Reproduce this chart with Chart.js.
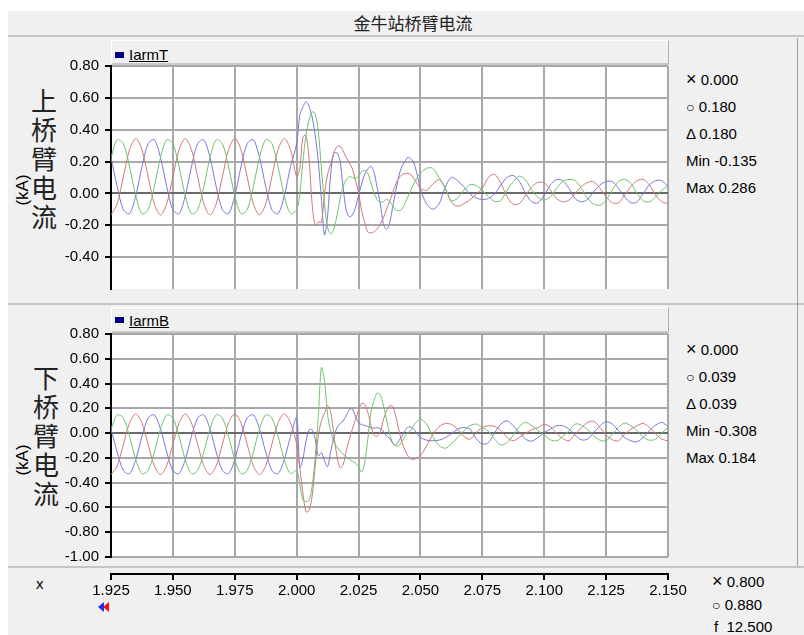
<!DOCTYPE html>
<html><head><meta charset="utf-8">
<script src="https://cdn.jsdelivr.net/npm/chart.js@4.4.1/dist/chart.umd.min.js"></script>
<style>
body{margin:0;width:804px;height:635px;background:#fff;overflow:hidden;position:relative;font-family:"Liberation Sans",Arial,sans-serif;color:#000}
.abs{position:absolute}
#frame{left:8px;top:11px;width:796px;height:624px;background:#f0f0f0}
.hline{height:2px;background:#c4c4c4}
.legend{background:#f0f0f0;border-top:1px solid #fff;border-left:1px solid #fff;border-right:1px solid #b0b0b0;border-bottom:2px solid #c8c8c8;box-sizing:border-box}
.sq{width:9px;height:6px;background:#000080}
.lg{font-size:15px;text-decoration:underline;line-height:16px}
.info{font-size:15px;line-height:18px;white-space:pre}
.cjk{font-family:"Noto Sans CJK SC",sans-serif;color:#222}
.vt{font-size:26px;line-height:29px;width:30px;text-align:center}
.kA{font-size:17px;transform:rotate(-90deg);transform-origin:center center;width:40px;text-align:center;line-height:20px}
canvas{position:absolute}
.sm{font-size:14px}
.x{font-size:18px;line-height:16px}
</style></head>
<body>
<div id="frame" class="abs"></div>
<div class="abs cjk" style="left:313px;top:12px;width:200px;text-align:center;font-size:17px;line-height:22px">金牛站桥臂电流</div>
<div class="abs hline" style="left:8px;top:35px;width:796px"></div>
<div class="abs hline" style="left:8px;top:303px;width:796px"></div>
<div class="abs hline" style="left:8px;top:566px;width:796px"></div>
<div class="abs" style="left:797px;top:38px;width:1px;height:528px;background:#a0a0a0"></div>

<div class="abs legend" style="left:111px;top:40px;width:558px;height:25px"></div>
<div class="abs sq" style="left:115px;top:52px"></div>
<div class="abs lg" style="left:129px;top:47px">IarmT</div>
<div class="abs legend" style="left:111px;top:307px;width:558px;height:26px"></div>
<div class="abs sq" style="left:115px;top:317px"></div>
<div class="abs lg" style="left:129px;top:313px">IarmB</div>

<div class="abs cjk vt" style="left:29px;top:85px">上<br>桥<br>臂<br>电<br>流</div>
<div class="abs cjk vt" style="left:31px;top:362px">下<br>桥<br>臂<br>电<br>流</div>
<div class="abs kA" style="left:3px;top:180px">(kA)</div>
<div class="abs kA" style="left:3px;top:450px">(kA)</div>

<div class="abs info" style="left:686px;top:71px"><span class="x">×</span> 0.000</div>
<div class="abs info" style="left:686px;top:98px"><span class="sm">○</span> 0.180</div>
<div class="abs info" style="left:686px;top:125px">Δ 0.180</div>
<div class="abs info" style="left:686px;top:152px">Min -0.135</div>
<div class="abs info" style="left:686px;top:179px">Max 0.286</div>

<div class="abs info" style="left:686px;top:341px"><span class="x">×</span> 0.000</div>
<div class="abs info" style="left:686px;top:368px"><span class="sm">○</span> 0.039</div>
<div class="abs info" style="left:686px;top:395px">Δ 0.039</div>
<div class="abs info" style="left:686px;top:422px">Min -0.308</div>
<div class="abs info" style="left:686px;top:449px">Max 0.184</div>

<div class="abs info" style="left:36px;top:575px">x</div>
<div class="abs info" style="left:712px;top:573px"><span class="x">×</span> 0.800</div>
<div class="abs info" style="left:712px;top:596px"><span class="sm">○</span> 0.880</div>
<div class="abs info" style="left:714px;top:618px">f  12.500</div>
<div class="abs" style="left:98px;top:602px;width:0;height:0;border-top:5.5px solid transparent;border-bottom:5.5px solid transparent;border-right:6px solid #1030ff"></div>
<div class="abs" style="left:103px;top:602px;width:0;height:0;border-top:5.5px solid transparent;border-bottom:5.5px solid transparent;border-right:6px solid #ff1010"></div>

<canvas id="cTop" width="680" height="263" style="left:0;top:46px"></canvas>
<canvas id="cBot" width="680" height="263" style="left:0;top:314px"></canvas>
<canvas id="cX" width="700" height="60" style="left:0;top:554px"></canvas>

<script>
const time = [1.925,1.9275,1.93,1.9325,1.935,1.9375,1.94,1.9425,1.945,1.9475,1.95,1.9525,1.955,1.9575,1.96,1.9625,1.965,1.9675,1.97,1.9725,1.975,1.9775,1.98,1.9825,1.985,1.9875,1.99,1.9925,1.995,1.9975,2.0,
2.00125,2.0025,2.00375,2.005,2.00625,2.0075,2.00875,2.01,2.01125,2.0125,2.01375,2.015,2.01625,2.0175,2.01875,2.02,2.02125,2.0225,2.02375,2.025,2.02625,2.0275,2.02875,2.03,2.03125,2.0325,2.03375,2.035,2.03625,2.0375,2.03875,2.04,2.04125,2.0425,2.04375,2.045,2.04625,2.0475,2.04875,2.05,
2.0525,2.055,2.0575,2.06,2.0625,2.065,2.0675,2.07,2.0725,2.075,2.0775,2.08,2.0825,2.085,2.0875,2.09,2.0925,2.095,2.0975,2.1,2.1025,2.105,2.1075,2.11,2.1125,2.115,2.1175,2.12,2.1225,2.125,2.1275,2.13,2.1325,2.135,2.1375,2.14,2.1425,2.145,2.1475,2.15];

const topRed = [-0.135,-0.065,0.105,0.275,0.345,0.275,0.105,-0.065,-0.135,-0.065,0.105,0.275,0.345,0.275,0.105,-0.065,-0.135,-0.065,0.105,0.275,0.345,0.275,0.105,-0.065,-0.135,-0.065,0.105,0.275,0.345,0.275,0.105,
0.154,0.354,0.364,0.217,-0.067,-0.202,-0.179,-0.183,-0.004,0.12,0.185,0.255,0.293,0.297,0.267,0.227,0.192,0.154,0.08,0.006,-0.109,-0.183,-0.242,-0.248,-0.24,-0.223,-0.194,-0.154,-0.103,-0.051,0,0.059,0.095,0.118,0.124,0.126,0.116,0.091,0.059,0.032,
0.019,0.059,0.086,0.034,-0.055,-0.08,-0.065,-0.04,-0.004,0.032,0.101,0.12,0.063,-0.021,-0.069,-0.063,-0.011,0.042,0.069,0.067,0.021,-0.032,-0.053,-0.042,0,0.042,0.069,0.074,0.032,-0.021,-0.059,-0.059,-0.011,0.042,0.08,0.088,0.053,-0.011,-0.053,-0.063];

const topBlue = [0.225,0.043,-0.103,-0.127,-0.015,0.167,0.313,0.337,0.225,0.043,-0.103,-0.127,-0.015,0.167,0.313,0.337,0.225,0.043,-0.103,-0.127,-0.015,0.167,0.313,0.337,0.225,0.043,-0.103,-0.127,-0.015,0.167,0.313,
0.49,0.543,0.575,0.547,0.48,0.364,0.196,-0.036,-0.261,-0.141,0.122,0.253,0.255,0.206,0.038,-0.103,-0.147,-0.135,-0.088,-0.011,0.059,0.122,0.154,0.171,0.133,0.038,-0.063,-0.189,-0.227,-0.189,-0.088,0.011,0.107,0.171,0.2,0.227,0.217,0.185,0.112,0.027,
-0.067,-0.099,-0.067,0.038,0.101,0.08,0.042,-0.004,-0.029,-0.038,-0.032,0,0.053,0.101,0.112,0.074,0,-0.053,-0.059,-0.011,0.053,0.088,0.08,0.032,-0.032,-0.053,-0.038,0.011,0.053,0.074,0.074,0.032,-0.021,-0.059,-0.053,0,0.053,0.08,0.08,0.042];

const topGreen = [0.225,0.337,0.313,0.167,-0.015,-0.127,-0.103,0.043,0.225,0.337,0.313,0.167,-0.015,-0.127,-0.103,0.043,0.225,0.337,0.313,0.167,-0.015,-0.127,-0.103,0.043,0.225,0.337,0.313,0.167,-0.015,-0.127,-0.103,
-0.004,0.196,0.364,0.459,0.512,0.501,0.385,0.154,-0.067,-0.215,-0.255,-0.225,-0.141,-0.04,0.042,0.086,0.105,0.101,0.095,0.107,0.137,0.145,0.128,0.065,0.002,-0.038,-0.057,-0.051,-0.038,-0.048,-0.078,-0.103,-0.109,-0.099,-0.061,-0.019,0.027,0.065,0.101,0.128,
0.158,0.158,0.101,0.036,-0.046,-0.03,0.02,0.055,0.05,0.02,-0.02,-0.05,-0.045,0.021,0.074,0.109,0.084,0.021,-0.025,-0.042,-0.021,0.032,0.074,0.088,0.08,0.032,-0.032,-0.067,-0.074,-0.042,0.021,0.074,0.088,0.063,0,-0.046,-0.053,-0.021,0.021,0.046];

const botRed = [-0.335,-0.263,-0.09,0.083,0.155,0.083,-0.09,-0.263,-0.335,-0.263,-0.09,0.083,0.155,0.083,-0.09,-0.263,-0.335,-0.263,-0.09,0.083,0.155,0.083,-0.09,-0.263,-0.335,-0.263,-0.09,0.083,0.155,0.083,-0.09,
-0.278,-0.481,-0.635,-0.625,-0.508,-0.265,-0.022,0.1,0.159,0.222,0.168,-0.008,-0.184,-0.278,-0.257,-0.149,-0.049,0.032,0.108,0.186,0.241,0.232,0.168,0.059,-0.016,-0.027,0.011,0.105,0.176,0.219,0.216,0.141,0.027,-0.07,-0.138,-0.186,-0.211,-0.211,-0.2,-0.184,
-0.103,-0.011,0.051,0.078,0.07,0.032,-0.027,-0.049,0.005,0.046,0.059,0.054,0.019,-0.035,-0.062,-0.035,0,0.027,0.046,0.07,0.051,0,-0.043,-0.062,-0.008,0.041,0.086,0.095,0.046,-0.016,-0.054,-0.062,-0.008,0.032,0.059,0.078,0.046,-0.008,-0.049,-0.062];

const botBlue = [0.033,-0.153,-0.302,-0.327,-0.213,-0.027,0.122,0.147,0.033,-0.153,-0.302,-0.327,-0.213,-0.027,0.122,0.147,0.033,-0.153,-0.302,-0.327,-0.213,-0.027,0.122,0.147,0.033,-0.153,-0.302,-0.327,-0.213,-0.027,0.122,
-0.278,-0.211,-0.068,0.024,0.027,-0.049,-0.184,-0.157,-0.224,-0.27,-0.149,-0.035,0.043,0.076,0.097,0.141,0.189,0.195,0.135,0.084,0.068,0.062,0.054,0.043,0.041,0.043,0.038,0.016,-0.022,-0.043,-0.081,-0.097,-0.062,-0.027,0.019,0.049,0.049,0.027,-0.008,-0.035,
-0.057,-0.062,-0.057,-0.038,-0.005,0.032,0.046,0.032,-0.043,-0.089,-0.076,0.005,0.073,0.1,0.059,0.005,-0.049,-0.065,-0.035,0.005,0.032,0.059,0.059,0.032,-0.016,-0.054,-0.049,0.005,0.059,0.092,0.073,0.019,-0.035,-0.062,-0.07,-0.035,0.019,0.065,0.086,0.054];

const botGreen = [0.033,0.147,0.122,-0.027,-0.213,-0.327,-0.302,-0.153,0.033,0.147,0.122,-0.027,-0.213,-0.327,-0.302,-0.153,0.033,0.147,0.122,-0.027,-0.213,-0.327,-0.302,-0.153,0.033,0.147,0.122,-0.027,-0.213,-0.327,-0.302,
-0.414,-0.535,-0.554,-0.541,-0.432,-0.189,0.141,0.53,0.42,0.146,0.016,-0.07,-0.111,-0.143,-0.17,-0.192,-0.211,-0.227,-0.243,-0.27,-0.314,-0.238,-0.049,0.168,0.262,0.322,0.311,0.227,0.114,0,-0.076,-0.103,-0.103,-0.065,-0.027,0.005,0.024,0.07,0.097,0.114,
0.073,-0.027,-0.1,-0.122,-0.089,-0.035,0.019,0.06,0.073,0.046,0.014,-0.049,-0.097,-0.076,-0.016,0.054,0.086,0.059,0.019,-0.016,-0.054,-0.062,-0.027,0.019,0.073,0.065,0.027,-0.022,-0.057,-0.062,-0.008,0.046,0.081,0.059,0.019,-0.035,-0.057,-0.049,0,0.046];

const topTicks = [0.8,0.6,0.4,0.2,0,-0.2,-0.4];
const botTicks = [0.8,0.6,0.4,0.2,0,-0.2,-0.4,-0.6,-0.8,-1.0];
const xTicks = [1.925,1.95,1.975,2.0,2.025,2.05,2.075,2.1,2.125,2.15];

const RED='rgb(210,120,120)', BLUE='rgb(120,120,220)', GREEN='rgb(110,195,110)';
const tickFont={family:'"Liberation Sans", Arial, sans-serif',size:15};

const bgPlugin={id:'bgArea',beforeDraw(c){const a=c.chartArea,ctx=c.ctx;ctx.save();ctx.fillStyle='#fff';ctx.fillRect(a.left,a.top,a.right-a.left,a.bottom-a.top);ctx.restore();}};

function pts(ys){return time.map((t,i)=>({x:t,y:ys[i]}));}

function panel(id, series, ymin, ymax, ticks){
  return new Chart(document.getElementById(id),{
    type:'line',
    data:{datasets:series.map(s=>({data:pts(s.v),borderColor:s.c,borderWidth:1,pointRadius:0,tension:0.3,fill:false}))},
    options:{responsive:false,animation:false,events:[],parsing:false,
      layout:{padding:{left:0,right:12,top:20,bottom:20}},
      plugins:{legend:{display:false},tooltip:{enabled:false}},
      scales:{
        x:{type:'linear',min:1.925,max:2.15,
           afterBuildTicks:s=>{s.ticks=xTicks.map(v=>({value:v}));},
           afterFit:s=>{s.height=0;},
           ticks:{display:false},
           grid:{color:'#a8a8a8',lineWidth:2,drawTicks:false},
           border:{display:false}},
        y:{type:'linear',min:ymin,max:ymax,
           afterBuildTicks:s=>{s.ticks=ticks.map(v=>({value:v}));},
           afterFit:s=>{s.width=111;},
           ticks:{color:'#000',font:tickFont,padding:6,callback:v=>Number(v).toFixed(2)},
           grid:{color:c=>(c.tick&&Math.abs(c.tick.value)<1e-9)?'#6a6a6a':'#a8a8a8',lineWidth:2,tickColor:'#000',tickLength:6},
           border:{color:'#000',width:2}}
      }
    },
    plugins:[bgPlugin]
  });
}

panel('cTop',[{v:topGreen,c:GREEN},{v:topRed,c:RED},{v:topBlue,c:BLUE}],-0.6,0.8,topTicks);
panel('cBot',[{v:botGreen,c:GREEN},{v:botRed,c:RED},{v:botBlue,c:BLUE}],-1.0,0.8,botTicks);

new Chart(document.getElementById('cX'),{
  type:'line',
  data:{datasets:[{data:[],pointRadius:0}]},
  options:{responsive:false,animation:false,events:[],
    layout:{padding:{left:111,right:32,top:18,bottom:0}},
    plugins:{legend:{display:false},tooltip:{enabled:false}},
    scales:{
      x:{type:'linear',min:1.925,max:2.15,
         afterBuildTicks:s=>{s.ticks=xTicks.map(v=>({value:v}));},
         afterFit:s=>{s.height=40;},
         ticks:{color:'#000',font:tickFont,padding:2,maxRotation:0,autoSkip:false,callback:v=>Number(v).toFixed(3)},
         grid:{drawOnChartArea:false,drawTicks:true,tickLength:6,tickColor:'#000',lineWidth:2},
         border:{color:'#000',width:2}},
      y:{display:false,min:0,max:1}
    }
  }
});
</script>
</body></html>
